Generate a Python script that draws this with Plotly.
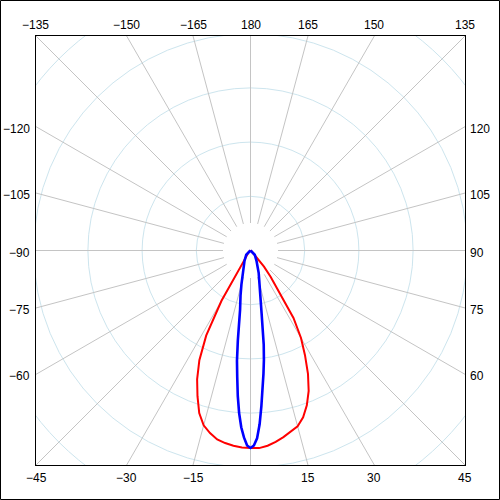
import numpy as np
import plotly.graph_objects as go

# luminous intensity curves, angle in degrees from the downward axis
red_angles = [-90, -60, -45, -40, -35, -32.5, -30, -27.5, -25, -22.5, -20, -17.5, -15,
              -12.5, -10, -7.5, -5, -2.5, 0, 2.5, 5, 7.5, 10, 12.5, 15, 17.5, 20,
              22.5, 25, 27.5, 30, 32.5, 35, 37.5, 40, 45, 50, 60, 90]
red_values = [0, 1, 3, 4, 6, 12, 58, 96, 121, 139.5, 155, 170.5, 181,
              187, 191.8, 194.2, 196, 197.2, 197.5, 197.8, 196, 193, 189.5, 185.7, 182, 175, 164.7,
              152, 136, 118, 101, 80, 46, 33, 21, 7, 3, 1, 0]

blue_angles = [-90, -45, -30, -20, -15, -12.5, -10, -8, -7, -6, -5, -4, -3, -2, -1, 0,
               1, 2, 3, 4, 5, 6, 7, 8, 10, 12.5, 15, 20, 30, 45, 90]
blue_values = [0, 6, 12, 22, 35, 46, 60, 91, 111, 127, 146, 163, 177, 187, 195, 197.5,
               195, 188, 174, 156, 139, 124, 110, 95, 64, 43, 33, 24, 12, 6, 0]

ring_radii = [54.2, 108.4, 162.6, 216.8, 271]
spoke_angles = [0, 15, 30, 45, 60, 75, 90, 105, 120, 135, 150, 165,
                180, 195, 210, 225, 240, 255, 270, 285, 300, 315, 330, 345]
tick_angles = [-165, -150, -135, -120, -105, -90, -75, -60, -45, -30, -15,
               15, 30, 45, 60, 75, 90, 105, 120, 135, 150, 165, 180]

HALF = 214.5      # half size of the square plot area, data units
SPOKE_START = 27.5
PLOT_PX = 429


def to_xy(angles, values):
    a = np.radians(np.asarray(angles, dtype=float))
    r = np.asarray(values, dtype=float)
    return r * np.sin(a), -r * np.cos(a)


fig = go.Figure()

for rr in ring_radii:
    fig.add_shape(type="circle", xref="x", yref="y", x0=-rr, x1=rr, y0=-rr, y1=rr,
                  line={"color": "#cde5ee", "width": 1}, layer="below")

for a in spoke_angles:
    t = np.radians(a)
    fig.add_shape(type="line", xref="x", yref="y",
                  x0=SPOKE_START * np.sin(t), y0=-SPOKE_START * np.cos(t),
                  x1=400 * np.sin(t), y1=-400 * np.cos(t),
                  line={"color": "#c4c4c4", "width": 1}, layer="below")

x, y = to_xy(red_angles, red_values)
fig.add_trace(go.Scatter(x=x, y=y, mode="lines", line={"color": "#ff0000", "width": 2}))
x, y = to_xy(blue_angles, blue_values)
fig.add_trace(go.Scatter(x=x, y=y, mode="lines", line={"color": "#0000ff", "width": 2.6}))

font = {"family": "Liberation Sans, Arial, sans-serif", "size": 12, "color": "black"}
for a in tick_angles:
    t = np.radians(a)
    s, c = np.sin(t), -np.cos(t)
    k = HALF / max(abs(s), abs(c))
    hx, hy = k * s, k * c
    px = (hx + HALF) / (2 * HALF)
    py = (hy + HALF) / (2 * HALF)
    text = str(a).replace("-", "\u2212")
    if abs(c) >= abs(s) - 1e-9:
        top = c > 0
        fig.add_annotation(x=px, y=1 if top else 0, xref="paper", yref="paper", text=text,
                           showarrow=False, font=font, xanchor="center", yanchor="middle",
                           yshift=11 if top else -12.5)
    else:
        right = s > 0
        fig.add_annotation(x=1 if right else 0, y=py, xref="paper", yref="paper", text=text,
                           showarrow=False, font=font, xanchor="left" if right else "right",
                           yanchor="middle", xshift=2.5 if right else -4.5, yshift=-2)

# outer border of the image
fig.add_shape(type="rect", xref="paper", yref="paper",
              x0=(0.5 - 36) / PLOT_PX, x1=(499.5 - 36) / PLOT_PX,
              y0=(465 - 499.5) / PLOT_PX, y1=(465 - 0.5) / PLOT_PX,
              line={"color": "black", "width": 1})

axis = dict(range=[-HALF, HALF], showgrid=False, zeroline=False, showticklabels=False,
            ticks="", showline=True, mirror=True, linecolor="black", linewidth=1)
fig.update_layout(
    width=500, height=500,
    margin={"l": 36, "r": 35, "t": 36, "b": 35},
    paper_bgcolor="white", plot_bgcolor="white",
    showlegend=False,
    xaxis=axis, yaxis=axis,
)

fig.write_html("out.html", config={"displayModeBar": False},
               post_script="document.body.style.margin = '0';")
